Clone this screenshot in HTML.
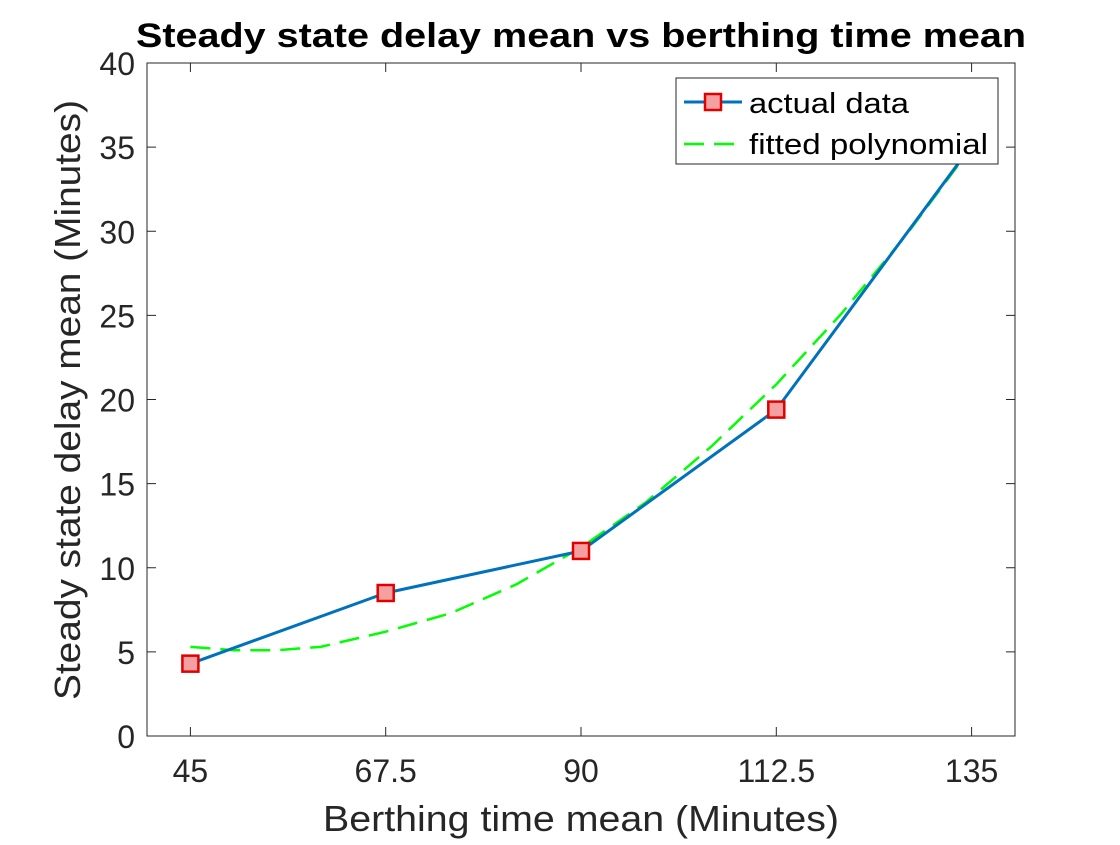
<!DOCTYPE html>
<html><head><meta charset="utf-8"><style>
body{margin:0;background:#fff;}
svg text{font-family:"Liberation Sans",Arial,sans-serif;fill:#262626;}
</style></head><body>
<svg id="chart" width="1120" height="840" xmlns="http://www.w3.org/2000/svg">
<rect width="1120" height="840" fill="#fff"/>
<g id="g"></g>
</svg>
<script>
const xCats=[45,67.5,90,112.5,135];
const actual=[4.3,8.5,11.0,19.4,35.1];
const fitX=[45,50,55,60,67.5,75,82.5,90,97.5,105,112.5,120,127.5,135];
const fitY=[5.3,5.1,5.1,5.3,6.2,7.3,9.0,11.2,13.9,17.2,20.9,25.1,29.8,35.0];
const xTicks=[45,67.5,90,112.5,135];
const yTicks=[0,5,10,15,20,25,30,35,40];
const L=147,R=1015,T=63,B=736;
const sx=v=>L+(v-40)/100*(R-L);
const sy=v=>B-v/40*(B-T);
const g=document.getElementById('g');
const NS='http://www.w3.org/2000/svg';
function mk(t,a,p){const e=document.createElementNS(NS,t);for(const k in a)e.setAttribute(k,a[k]);(p||g).appendChild(e);return e;}
const ax=mk('rect',{x:L,y:T,width:R-L,height:B-T,fill:'none',stroke:'#262626','stroke-width':1});


xTicks.forEach(v=>{
 const x=sx(v);
 mk('line',{x1:x,x2:x,y1:B,y2:B-9,stroke:'#262626'});
 mk('line',{x1:x,x2:x,y1:T,y2:T+9,stroke:'#262626'});
 const t=mk('text',{x:x,y:B+46,'text-anchor':'middle','font-size':32});t.textContent=v;
 
 
});
yTicks.forEach(v=>{
 const y=sy(v);
 mk('line',{x1:L,x2:L+9,y1:y,y2:y,stroke:'#262626'});
 mk('line',{x1:R,x2:R-9,y1:y,y2:y,stroke:'#262626'});
 const t=mk('text',{x:L-12,y:y+12,'text-anchor':'end','font-size':32});t.textContent=v;
 
 
});
const fit=mk('polyline',{points:fitX.map((v,i)=>sx(v)+','+sy(fitY[i])).join(' '),fill:'none',stroke:'#00ff00','stroke-width':2.5,'stroke-dasharray':'20,10'});


const ln=mk('polyline',{points:xCats.map((v,i)=>sx(v)+','+sy(actual[i])).join(' '),fill:'none',stroke:'#0072bd','stroke-width':3});


xCats.forEach((v,i)=>{
 const m=mk('rect',{x:sx(v)-8,y:sy(actual[i])-8,width:16,height:16,fill:'#f4a0a0',stroke:'#e00000','stroke-width':2.5});
 
 
});
const lg=mk('g',{});


mk('rect',{x:676,y:78,width:322,height:86,fill:'#fff',stroke:'#262626','stroke-width':1},lg);
mk('line',{x1:684,x2:742,y1:102,y2:102,stroke:'#0072bd','stroke-width':3},lg);
mk('rect',{x:705,y:94,width:16,height:16,fill:'#f4a0a0',stroke:'#e00000','stroke-width':2.5},lg);
mk('line',{x1:684,x2:742,y1:144,y2:144,stroke:'#00ff00','stroke-width':2.5,'stroke-dasharray':'20,10'},lg);
let t=mk('text',{x:749,y:113,'font-size':29,textLength:160,lengthAdjust:'spacingAndGlyphs'},lg);t.textContent='actual data';t.style.fill='#000';
t=mk('text',{x:749,y:154,'font-size':29,textLength:239,lengthAdjust:'spacingAndGlyphs'},lg);t.textContent='fitted polynomial';t.style.fill='#000';
</script>
<svg style="position:absolute;left:0;top:0" width="1120" height="840">
<text x="581" y="47" text-anchor="middle" font-size="34" font-weight="bold" textLength="890" lengthAdjust="spacingAndGlyphs" style="fill:#000">Steady state delay mean vs berthing time mean</text>
<text x="581" y="831" text-anchor="middle" font-size="36" textLength="516" lengthAdjust="spacingAndGlyphs">Berthing time mean (Minutes)</text>
<text transform="translate(80,400) rotate(-90)" text-anchor="middle" font-size="36" textLength="600" lengthAdjust="spacingAndGlyphs">Steady state delay mean (Minutes)</text>
</svg>
</body></html>
